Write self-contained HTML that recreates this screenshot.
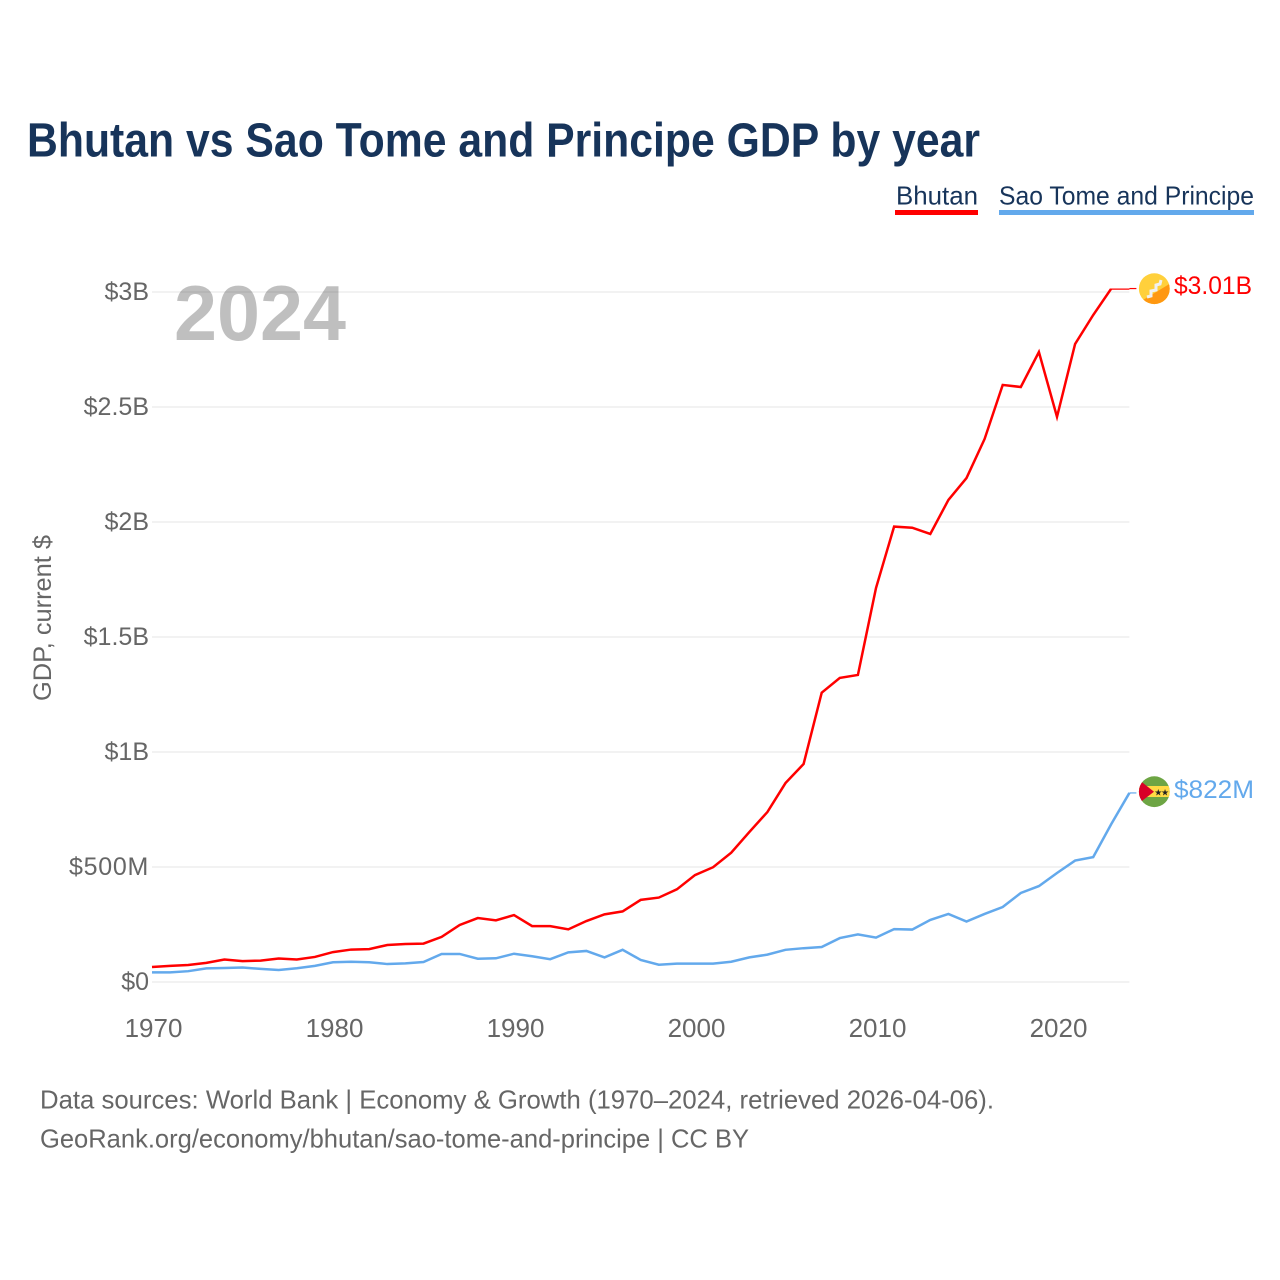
<!DOCTYPE html>
<html lang="en">
<head>
<meta charset="utf-8">
<title>Bhutan vs Sao Tome and Principe GDP by year</title>
<style>
html,body{margin:0;padding:0;background:#fff;}
svg{display:block;font-family:"Liberation Sans",sans-serif;}
</style>
</head>
<body>
<svg id="chart" xmlns="http://www.w3.org/2000/svg" width="1280" height="1280" viewBox="0 0 1280 1280">
  <rect x="0" y="0" width="1280" height="1280" fill="#ffffff"/>
  <text x="27" y="156.5" font-size="48" font-weight="700" fill="#17345a" textLength="953" lengthAdjust="spacingAndGlyphs">Bhutan vs Sao Tome and Principe GDP by year</text>

  <g>
    <g>
      <text x="896" y="204.5" font-size="26" fill="#17345a" textLength="82" lengthAdjust="spacingAndGlyphs">Bhutan</text>
      <rect x="895" y="210" width="83" height="5" fill="#ff0000"/>
    </g>
    <g>
      <text x="999" y="204.5" font-size="26" fill="#17345a" textLength="255" lengthAdjust="spacingAndGlyphs">Sao Tome and Principe</text>
      <rect x="999" y="210" width="255" height="5" fill="#63a9ec"/>
    </g>
  </g>

  <g id="grid"></g>
  <text x="174" y="340" font-size="78" font-weight="700" fill="#000000" fill-opacity="0.25" textLength="172" lengthAdjust="spacingAndGlyphs">2024</text>
  <g id="yticks"></g>
  <g id="xticks"></g>
  <text transform="translate(51 618) rotate(-90)" text-anchor="middle" font-size="25" fill="#666666" textLength="166" lengthAdjust="spacingAndGlyphs">GDP, current $</text>

  <defs>
    <clipPath id="plot-clip"><rect id="plot-clip-rect" x="140" y="0" width="1000" height="1000"/></clipPath>
    <clipPath id="flag-bt"><circle cx="1154.3" cy="288.7" r="15.4"/></clipPath>
    <clipPath id="flag-st"><circle cx="1154.3" cy="791.7" r="15.4"/></clipPath>
  </defs>
  <g id="series"></g>

  <g clip-path="url(#flag-bt)">
    <rect x="1138" y="272" width="33" height="34" fill="#ffd03b"/>
    <polygon points="1138,303 1171,283 1171,306 1138,306" fill="#ff9811"/>
    <polyline points="1147,297 1151,296 1151,291 1156,290 1156,285 1160,284 1161,280" fill="none" stroke="#f0f0f0" stroke-width="3"/>
  </g>
  <g clip-path="url(#flag-st)">
    <rect x="1138" y="775" width="33" height="34" fill="#6da544"/>
    <rect x="1138" y="786" width="33" height="11" fill="#ffda44"/>
    <polygon points="1138,779 1154,791.7 1138,804" fill="#d80027"/>
    <text x="1158.3" y="795.5" font-size="9" text-anchor="middle" fill="#222222">★</text>
    <text x="1165" y="795.5" font-size="9" text-anchor="middle" fill="#222222">★</text>
  </g>
  <text id="value-bhutan" x="1174" y="294" font-size="25" fill="#ff0000" textLength="78" lengthAdjust="spacingAndGlyphs"></text>
  <text id="value-sao-tome" x="1174" y="798" font-size="25" fill="#63a9ec" textLength="80" lengthAdjust="spacingAndGlyphs"></text>

  <text x="40" y="1108.5" font-size="26" fill="#666666" textLength="954" lengthAdjust="spacingAndGlyphs">Data sources: World Bank | Economy &amp; Growth (1970–2024, retrieved 2026-04-06).</text>
  <text x="40" y="1147.5" font-size="26" fill="#666666" textLength="709" lengthAdjust="spacingAndGlyphs">GeoRank.org/economy/bhutan/sao-tome-and-principe | CC BY</text>
</svg>
<script>
const startYear = 1970;
const xTickYears = [1970, 1980, 1990, 2000, 2010, 2020];
const yTickValues = [0, 500, 1000, 1500, 2000, 2500, 3000];
const yTickLabels = ['$0', '$500M', '$1B', '$1.5B', '$2B', '$2.5B', '$3B'];
const bhutanValues = [65,70,74,83,98,91,93,102,98,109,130,141,143,161,165,167,196,248,278,268,291,243,243,229,265,294,307,357,367,403,465,499,562,652,739,865,948,1258,1322,1335,1713,1980,1975,1948,2096,2191,2361,2596,2587,2739,2457,2774,2900,3015,3015];
const saoTomeValues = [42,42,47,59,61,63,57,52,60,70,86,88,86,78,81,87,122,122,101,103,123,112,99,129,135,107,140,96,75,80,80,80,88,107,119,140,147,152,191,207,193,230,228,270,296,263,296,326,387,417,474,528,543,687,822];
const bhutanEndLabel = '$3.01B';
const saoTomeEndLabel = '$822M';

const SVG_NS = 'http://www.w3.org/2000/svg';
const xLeft = 152, xPerYear = 18.1, yZero = 982, yPerMillion = 0.23;
function xScale(year) { return xLeft + (year - startYear) * xPerYear; }
function yScale(value) { return yZero - value * yPerMillion; }
function make(tag, attrs, parent) {
  const el = document.createElementNS(SVG_NS, tag);
  Object.keys(attrs).forEach(function (k) { el.setAttribute(k, attrs[k]); });
  parent.appendChild(el);
  return el;
}

const gridGroup = document.getElementById('grid');
const yTickGroup = document.getElementById('yticks');
yTickValues.forEach(function (v, i) {
  const line = make('line', { x1: xLeft, x2: xScale(2024), y1: yScale(v), y2: yScale(v), stroke: '#ebebeb', 'stroke-width': 1.3 }, gridGroup);
  
  
  const label = make('text', { x: 149, y: yScale(v) + 8.2, 'text-anchor': 'end', 'font-size': 25, fill: '#666666' }, yTickGroup);
  
  
  label.textContent = yTickLabels[i];
  if (yTickLabels[i].indexOf('M') !== -1) {
    label.setAttribute('letter-spacing', '0.7');
  }
});

const xTickGroup = document.getElementById('xticks');
xTickYears.forEach(function (year) {
  const label = make('text', { x: xScale(year) + 1.5, y: 1037, 'text-anchor': 'middle', 'font-size': 26, fill: '#666666' }, xTickGroup);
  
  
  label.textContent = String(year);
});

const allMax = Math.max.apply(null, bhutanValues.concat(saoTomeValues));
const clipRect = document.getElementById('plot-clip-rect');
clipRect.setAttribute('y', yScale(allMax));
clipRect.setAttribute('height', yZero + 40 - yScale(allMax));

const seriesGroup = document.getElementById('series');
function drawSeries(values, color, seriesName, connectorName) {
  const pts = values.map(function (v, i) { return xScale(startYear + i).toFixed(2) + ',' + yScale(v).toFixed(2); }).join(' ');
  const line = make('polyline', { points: pts, fill: 'none', stroke: color, 'stroke-width': 2.5, 'stroke-linejoin': 'miter', 'clip-path': 'url(#plot-clip)' }, seriesGroup);
  
  
  const lastX = xScale(startYear + values.length - 1);
  const lastY = yScale(values[values.length - 1]);
  const connector = make('line', { x1: lastX, x2: lastX + 7, y1: lastY, y2: lastY, stroke: color, 'stroke-width': 1.2 }, seriesGroup);
  
  
}
drawSeries(saoTomeValues, '#63a9ec', 'series-line-sao-tome', 'connector-sao-tome');
drawSeries(bhutanValues, '#ff0000', 'series-line-bhutan', 'connector-bhutan');

document.getElementById('value-bhutan').textContent = bhutanEndLabel;
document.getElementById('value-sao-tome').textContent = saoTomeEndLabel;
</script>
</body>
</html>
